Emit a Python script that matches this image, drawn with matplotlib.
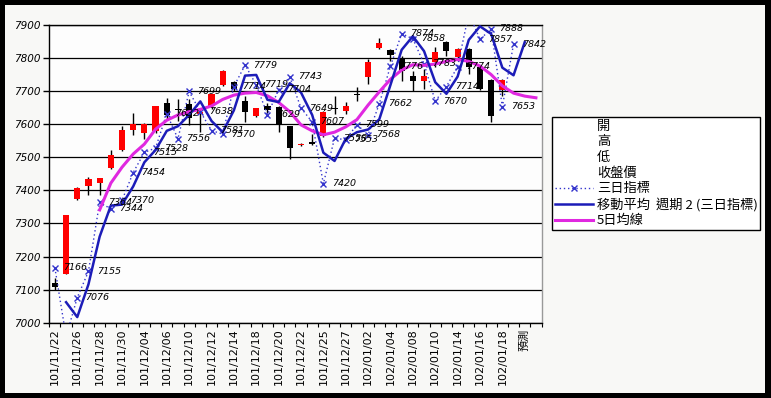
import numpy as np
import matplotlib
matplotlib.use('Agg')
import matplotlib.pyplot as plt
from matplotlib.lines import Line2D
from matplotlib.patches import Rectangle

plt.rcParams['font.family'] = ['DejaVu Sans', 'Noto Sans CJK TC']

# ---------------- data ----------------
categories = [
    '101/11/22', '101/11/23', '101/11/26', '101/11/27', '101/11/28', '101/11/29',
    '101/11/30', '101/12/03', '101/12/04', '101/12/05', '101/12/06', '101/12/07',
    '101/12/10', '101/12/11', '101/12/12', '101/12/13', '101/12/14', '101/12/17',
    '101/12/18', '101/12/19', '101/12/20', '101/12/21', '101/12/22', '101/12/24',
    '101/12/25', '101/12/26', '101/12/27', '101/12/28', '102/01/02', '102/01/03',
    '102/01/04', '102/01/07', '102/01/08', '102/01/09', '102/01/10', '102/01/11',
    '102/01/14', '102/01/15', '102/01/16', '102/01/17', '102/01/18', '102/01/21',
    '預測', '',
]

opens = [7120, 7148, 7374, 7412, 7421, 7469, 7521, 7584, 7575, 7579,
         7663, 7647, 7660, 7630, 7654, 7718, 7727, 7669, 7624, 7655,
         7651, 7594, 7536, 7545, 7563, 7650, 7640, 7690, 7742, 7829,
         7824, 7800, 7745, 7730, 7788, 7848, 7803, 7827, 7774, 7735, 7702]
highs = [7136, 7327, 7410, 7439, 7438, 7523, 7594, 7635, 7604, 7656,
         7678, 7676, 7676, 7645, 7692, 7763, 7730, 7685, 7650, 7665,
         7655, 7596, 7542, 7569, 7640, 7685, 7666, 7712, 7797, 7860,
         7826, 7806, 7760, 7766, 7833, 7851, 7830, 7830, 7776, 7737, 7736]
lows = [7099, 7148, 7372, 7387, 7387, 7466, 7518, 7566, 7554, 7572,
        7615, 7609, 7597, 7578, 7645, 7716, 7700, 7606, 7622, 7635,
        7578, 7496, 7534, 7538, 7560, 7630, 7630, 7669, 7721, 7827,
        7790, 7730, 7699, 7708, 7772, 7806, 7790, 7751, 7704, 7606, 7684]
closes = [7107, 7327, 7408, 7433, 7436, 7508, 7584, 7602, 7602, 7654,
          7627, 7643, 7620, 7636, 7690, 7761, 7706, 7636, 7648, 7642,
          7602, 7527, 7540, 7540, 7636, 7646, 7654, 7688, 7788, 7845,
          7809, 7760, 7730, 7745, 7818, 7821, 7827, 7773, 7706, 7624, 7734]

# 三日指標 (starts at category 0)
three_day = [7166, 6958, 7076, 7155, 7364, 7344, 7370, 7454, 7515, 7528,
             7632, 7556, 7699, 7638, 7581, 7570, 7714, 7779, 7719, 7629,
             7704, 7743, 7649, 7607, 7420, 7558, 7553, 7599, 7568, 7662,
             7776, 7874, 7858, 7783, 7670, 7714, 7774, 7935, 7857, 7888,
             7653, 7842]

# 移動平均 週期 2 (三日指標) (starts at category 1)
ma2 = [7062, 7017, 7116, 7260, 7354, 7357, 7412, 7485, 7522, 7580,
       7594, 7628, 7669, 7610, 7576, 7642, 7747, 7749, 7674, 7667,
       7724, 7696, 7628, 7514, 7489, 7556, 7576, 7584, 7615, 7719,
       7825, 7866, 7821, 7727, 7692, 7744, 7855, 7896, 7873, 7771,
       7748, 7848]

# 5日均線 (starts at category 4)
ma5 = [7341, 7422, 7470, 7510, 7540, 7585, 7612, 7628, 7638, 7645,
       7655, 7675, 7688, 7694, 7696, 7686, 7666, 7638, 7598, 7580,
       7568, 7576, 7592, 7614, 7658, 7698, 7736, 7764, 7780, 7778,
       7782, 7790, 7796, 7790, 7776, 7750, 7716, 7694, 7685, 7680]

y_ticks = [7000, 7100, 7200, 7300, 7400, 7500, 7600, 7700, 7800, 7900]
legend_labels = ['開', '高', '低', '收盤價', '三日指標', '移動平均  週期 2 (三日指標)', '5日均線']

# ---------------- figure ----------------
W, H = 771, 398
fig = plt.figure(figsize=(W / 100, H / 100), dpi=100)
fig.patch.set_facecolor('black')
fig.add_artist(Rectangle((5 / W, 5 / H), 760 / W, 388 / H, transform=fig.transFigure,
                         facecolor='#f8f8f6', edgecolor='none', zorder=-10))

left, right, top, bottom = 49.3, 541.5, 25.0, 322.7
ax = fig.add_axes([left / W, 1 - bottom / H, (right - left) / W, (bottom - top) / H])
ax.set_facecolor('#fdfdfd')

n_cat = len(categories)
ax.set_xlim(-0.5, n_cat - 0.5)
ax.set_ylim(y_ticks[0], y_ticks[-1])

# candles
o = np.array(opens, float); h = np.array(highs, float)
l = np.array(lows, float); c = np.array(closes, float)
x = np.arange(len(o))
ax.vlines(x, l, h, color='black', lw=1.0, zorder=2)
up = c >= o
bot = np.minimum(o, c)
hgt = np.maximum(np.abs(c - o), 3)
ax.bar(x[up], hgt[up], bottom=bot[up], width=0.55, color='#ff0000', zorder=3)
ax.bar(x[~up], hgt[~up], bottom=bot[~up], width=0.55, color='black', zorder=3)

# lines
td_x = np.arange(len(three_day))
ax.plot(td_x, three_day, ls=(0, (1, 2)), lw=1.0, color='#3434cc', marker='x',
        ms=4.5, mew=1.0, zorder=4)
ax.plot(np.arange(1, 1 + len(ma2)), ma2, color='#1c1cb8', lw=1.8, zorder=5)
ax.plot(np.arange(4, 4 + len(ma5)), ma5, color='#e028e0', lw=2.2, zorder=4)

for i, v in enumerate(three_day):
    if y_ticks[0] <= v <= y_ticks[-1]:
        ax.annotate(f'{v}', (i, v), xytext=(6.0, 0), textcoords='offset points',
                    ha='left', va='center', fontsize=6.8, style='italic',
                    color='black', zorder=6, annotation_clip=False)

# axes styling
ax.set_yticks(y_ticks)
ax.set_yticklabels([str(t) for t in y_ticks], fontsize=7.5, style='italic')
ax.tick_params(axis='y', length=4, width=1, pad=2, direction='out', color='black')
ax.grid(axis='y', color='black', lw=0.9)
ax.set_axisbelow(True)

major = np.arange(0, n_cat, 2)
ax.set_xticks(major)
ax.set_xticklabels([categories[i] for i in major], rotation=90, fontsize=8.0)
ax.set_xticks(np.arange(-0.5, n_cat, 1), minor=True)
ax.tick_params(axis='x', which='major', length=0, pad=4)
ax.tick_params(axis='x', which='minor', length=3, width=0.8, direction='out', color='black')

for s in ['left', 'bottom', 'top']:
    ax.spines[s].set_color('black')
    ax.spines[s].set_linewidth(1.0)
ax.spines['right'].set_color('#999999')
ax.spines['right'].set_linewidth(1.0)

# legend
handles = [Line2D([], [], ls='none') for _ in range(4)] + [
    Line2D([], [], ls=(0, (1, 2)), lw=1.0, color='#3434cc', marker='x', ms=4.5, mew=1.0),
    Line2D([], [], color='#1c1cb8', lw=1.8),
    Line2D([], [], color='#e028e0', lw=2.2),
]
leg = fig.legend(handles, legend_labels, loc='upper left',
                 bbox_to_anchor=(552 / W, 1 - 117 / H), bbox_transform=fig.transFigure,
                 prop={'family': ['Noto Sans CJK TC', 'DejaVu Sans'], 'size': 9.5},
                 frameon=True, fancybox=False, edgecolor='black', facecolor='#ffffff',
                 framealpha=1, handlelength=2.9, handletextpad=0.3, labelspacing=0.2,
                 borderpad=0.2, borderaxespad=0)
leg.get_frame().set_linewidth(1.0)

fig.savefig('out.png', dpi=100, facecolor=fig.get_facecolor())
